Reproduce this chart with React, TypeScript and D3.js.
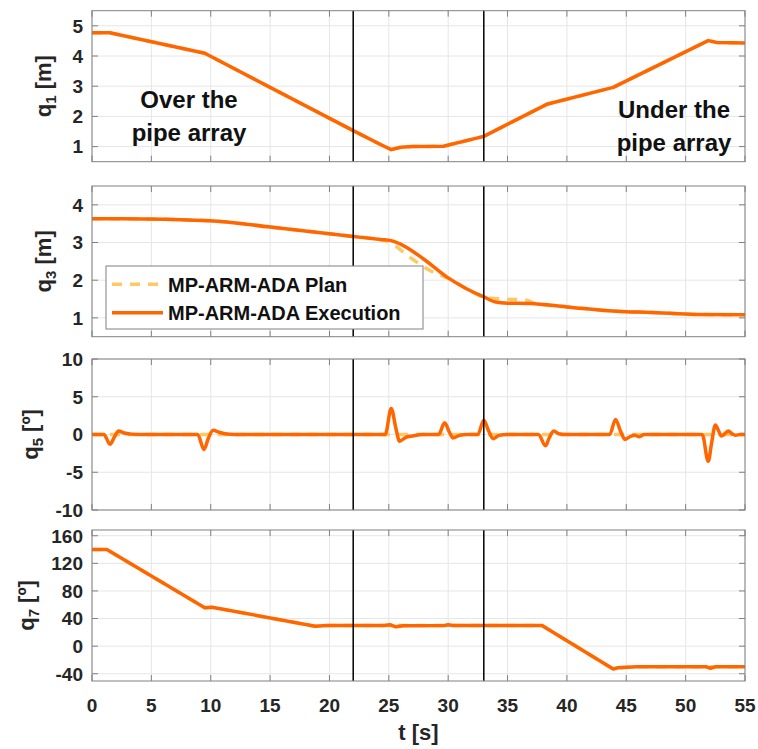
import React from 'react';
import * as d3 from 'd3';

type Pt = [number, number];

// time ticks (s)
const tTicks = [0, 5, 10, 15, 20, 25, 30, 35, 40, 45, 50, 55];
const phaseLines = [22, 33];

// q1 [m]
const q1Plan: Pt[] = [
  [0, 4.77], [1.5, 4.77], [9.5, 4.09], [22, 1.53], [24.3, 1.07], [25.2, 0.9], [26, 0.98],
  [27, 1.0], [29.6, 1.01], [33, 1.34], [38.3, 2.4], [43.9, 2.96], [51.9, 4.51], [52.6, 4.45], [55, 4.43],
];
const q1Exec: Pt[] = [
  [0, 4.77], [1.5, 4.77], [9.5, 4.09], [22, 1.53], [24.3, 1.07], [25.2, 0.9], [26, 0.98],
  [27, 1.0], [29.6, 1.01], [33, 1.34], [38.3, 2.4], [43.9, 2.96], [51.9, 4.51], [52.6, 4.45], [55, 4.43],
];

// q3 [m]
const q3Plan: Pt[] = [
  [0, 3.63], [2.5, 3.63], [9.9, 3.58], [15, 3.41], [22, 3.16], [24.3, 3.08], [25.1, 3.0],
  [26.8, 2.6], [28.5, 2.25], [30.2, 2.02], [31.5, 1.78], [33.2, 1.54], [34.8, 1.5], [36.6, 1.47],
  [37.3, 1.38], [40, 1.29], [44.9, 1.16], [46.7, 1.15], [50.9, 1.09], [55, 1.08],
];
const q3Exec: Pt[] = [
  [0, 3.63], [2.5, 3.63], [9.9, 3.58], [15, 3.41], [22, 3.16], [24.3, 3.08], [25.2, 3.05],
  [25.9, 2.97], [27.9, 2.57], [29.9, 2.08], [31.5, 1.78], [33, 1.56], [34, 1.42], [35, 1.39],
  [36.9, 1.38], [40, 1.29], [44.9, 1.16], [46.7, 1.15], [50.9, 1.09], [55, 1.08],
];

// q5 [deg]
const q5Plan: Pt[] = [[0, 0], [55, 0]];
const q5Exec: Pt[] = [
  [0, 0], [1.0, 0], [1.52, -1.3], [1.9, -0.3], [2.25, 0.45], [2.7, 0.2], [3.3, 0.05], [4, 0],
  [8.9, 0], [9.43, -2.0], [9.8, -0.5], [10.2, 0.55], [10.7, 0.3], [11.2, 0.1], [12, 0],
  [24.7, 0], [25.2, 3.45], [25.6, 0.8], [25.9, -0.9], [26.4, -0.4], [27, -0.2], [27.8, 0],
  [29.2, 0], [29.7, 1.55], [30.1, 0.3], [30.4, -0.45], [30.9, -0.15], [31.6, 0],
  [32.5, 0], [33.0, 1.9], [33.4, 0.5], [33.8, -0.55], [34.3, -0.1], [35, 0],
  [37.6, 0], [38.2, -1.5], [38.5, -0.5], [38.9, 0.45], [39.3, 0.1], [39.8, 0],
  [43.6, 0], [44.1, 2.0], [44.5, 0.5], [44.9, -0.65], [45.3, -0.3], [45.7, -0.1], [46.1, -0.3], [46.5, 0],
  [51.4, 0], [51.9, -3.55], [52.2, -1], [52.5, 1.25], [52.8, 0.4], [53.0, -0.2], [53.3, 0.1],
  [53.6, 0.45], [53.9, 0.1], [54.2, -0.1], [54.6, 0], [55, 0],
];

// q7 [deg]
const q7Plan: Pt[] = [
  [0, 140], [1.25, 140], [9.5, 55.6], [10.1, 56.5], [18.8, 28.7], [19.8, 30], [37.9, 30],
  [43.9, -33.2], [44.3, -31.3], [45.9, -29.8], [55, -29.8],
];
const q7Exec: Pt[] = [
  [0, 140], [1.25, 140], [9.5, 55.6], [10.1, 56.5], [18.8, 28.7], [19.8, 30], [22, 30],
  [24.6, 30], [25.1, 31], [25.6, 28], [26.2, 29.5], [29.7, 30], [30, 31], [30.4, 30], [37.9, 30],
  [43.9, -33.2], [44.3, -31.3], [45.9, -29.8], [51.7, -29.8], [52.1, -32], [52.5, -30], [55, -29.8],
];

const q1Ticks = [1, 2, 3, 4, 5];
const q3Ticks = [1, 2, 3, 4];
const q5Ticks = [-10, -5, 0, 5, 10];
const q7Ticks = [-40, 0, 40, 80, 120, 160];

const PLAN = '#ffc864';
const EXEC = '#ff6600';
const FONT = '"Liberation Sans", Arial, Helvetica, sans-serif';
const INK = '#262626';

const left = 92;
const right = 745;
const x = d3.scaleLinear().domain([0, 55]).range([left, right]);

interface PanelProps {
  top: number;
  bottom: number;
  domain: [number, number];
  ticks: number[];
  plan: Pt[];
  exec: Pt[];
  smooth: boolean;
  sym: string;
  sub: string;
  unit: string;
  labelX: number;
  showX: boolean;
}

const Panel = ({ top, bottom, domain, ticks, plan, exec, smooth, sym, sub, unit, labelX, showX }: PanelProps) => {
  const y = d3.scaleLinear().domain(domain).range([bottom, top]);
  const line = d3
    .line<Pt>()
    .x(d => x(d[0]))
    .y(d => y(d[1]))
    .curve(smooth ? d3.curveMonotoneX : d3.curveLinear);
  const tl = 6;
  const clipId = `clip-${sym}${sub}`;
  return (
    <g>
      <defs>
        <clipPath id={clipId}>
          <rect x={left} y={top} width={right - left} height={bottom - top} />
        </clipPath>
      </defs>
      <rect x={left} y={top} width={right - left} height={bottom - top} fill="#fff" />
      {tTicks.map(t => (
        <line key={'gx' + t} x1={x(t)} x2={x(t)} y1={top} y2={bottom} stroke="#e6e6e6" />
      ))}
      {ticks.map(v => (
        <line key={'gy' + v} x1={left} x2={right} y1={y(v)} y2={y(v)} stroke="#e6e6e6" />
      ))}
      {tTicks.map(t => (
        <g key={'tx' + t} stroke="#808080">
          <line x1={x(t)} x2={x(t)} y1={bottom} y2={bottom - tl} />
          <line x1={x(t)} x2={x(t)} y1={top} y2={top + tl} />
        </g>
      ))}
      {ticks.map(v => (
        <g key={'ty' + v} stroke="#808080">
          <line x1={left} x2={left + tl} y1={y(v)} y2={y(v)} />
          <line x1={right} x2={right - tl} y1={y(v)} y2={y(v)} />
        </g>
      ))}
      <g clipPath={`url(#${clipId})`}>
        <path d={line(plan) || ''} fill="none" stroke={PLAN} strokeWidth={3.5} strokeDasharray="10 8" />
        <path d={line(exec) || ''} fill="none" stroke={EXEC} strokeWidth={3.5} strokeLinejoin="round" />
      </g>
      {phaseLines.map(t => (
        <line key={'pl' + t} x1={x(t)} x2={x(t)} y1={top} y2={bottom} stroke="#000" strokeWidth={1.5} />
      ))}
      <rect x={left} y={top} width={right - left} height={bottom - top} fill="none" stroke="#808080" />
      {ticks.map(v => (
        <text key={'yl' + v} x={left - 9} y={y(v)} dy="0.36em" textAnchor="end" fontSize={19} fill={INK}>
          {v}
        </text>
      ))}
      {showX &&
        tTicks.map(t => (
          <text key={'xl' + t} x={x(t)} y={bottom + 31} textAnchor="middle" fontSize={19} fill={INK}>
            {t}
          </text>
        ))}
      <text
        transform={`translate(${labelX}, ${(top + bottom) / 2}) rotate(-90)`}
        textAnchor="middle"
        fontSize={22}
        fill={INK}
      >
        {sym}
        <tspan fontSize={15} dy={5}>{sub}</tspan>
        <tspan dy={-5}>{' ' + unit}</tspan>
      </text>
    </g>
  );
};

export default function App() {
  return (
    <svg
      width={758}
      height={749}
      style={{ position: 'absolute', left: 0, top: 0, background: '#fff' }}
      fontFamily={FONT}
      fontWeight="bold"
    >
      <Panel top={10.7} bottom={161.7} domain={[0.5, 5.5]} ticks={q1Ticks} plan={q1Plan} exec={q1Exec}
        smooth={false} sym="q" sub="1" unit="[m]" labelX={51} showX={false} />
      <Panel top={186} bottom={336.7} domain={[0.5, 4.5]} ticks={q3Ticks} plan={q3Plan} exec={q3Exec}
        smooth={true} sym="q" sub="3" unit="[m]" labelX={51} showX={false} />
      <Panel top={359} bottom={510} domain={[-10, 10]} ticks={q5Ticks} plan={q5Plan} exec={q5Exec}
        smooth={true} sym="q" sub="5" unit="[º]" labelX={38} showX={false} />
      <Panel top={530} bottom={681} domain={[-50.5, 168.3]} ticks={q7Ticks} plan={q7Plan} exec={q7Exec}
        smooth={false} sym="q" sub="7" unit="[º]" labelX={34} showX={true} />

      {/* phase annotations in the q1 panel */}
      <g fontSize={24} fill="#111" textAnchor="middle">
        <text x={189} y={108}>Over the</text>
        <text x={189} y={141}>pipe array</text>
        <text x={674} y={118}>Under the</text>
        <text x={674} y={151}>pipe array</text>
      </g>

      {/* legend in the q3 panel */}
      <g>
        <rect x={106} y={266} width={317} height={63} fill="#fff" stroke="#808080" />
        <line x1={112} x2={163} y1={284.3} y2={284.3} stroke={PLAN} strokeWidth={3.5} strokeDasharray="10 8" />
        <line x1={112} x2={163} y1={312.7} y2={312.7} stroke={EXEC} strokeWidth={3.5} />
        <text x={168} y={291.5} fontSize={20} fill="#111">MP-ARM-ADA Plan</text>
        <text x={168} y={320} fontSize={20} fill="#111">MP-ARM-ADA Execution</text>
      </g>

      <text x={(left + right) / 2} y={740} textAnchor="middle" fontSize={22} fill={INK}>
        t [s]
      </text>
    </svg>
  );
}
